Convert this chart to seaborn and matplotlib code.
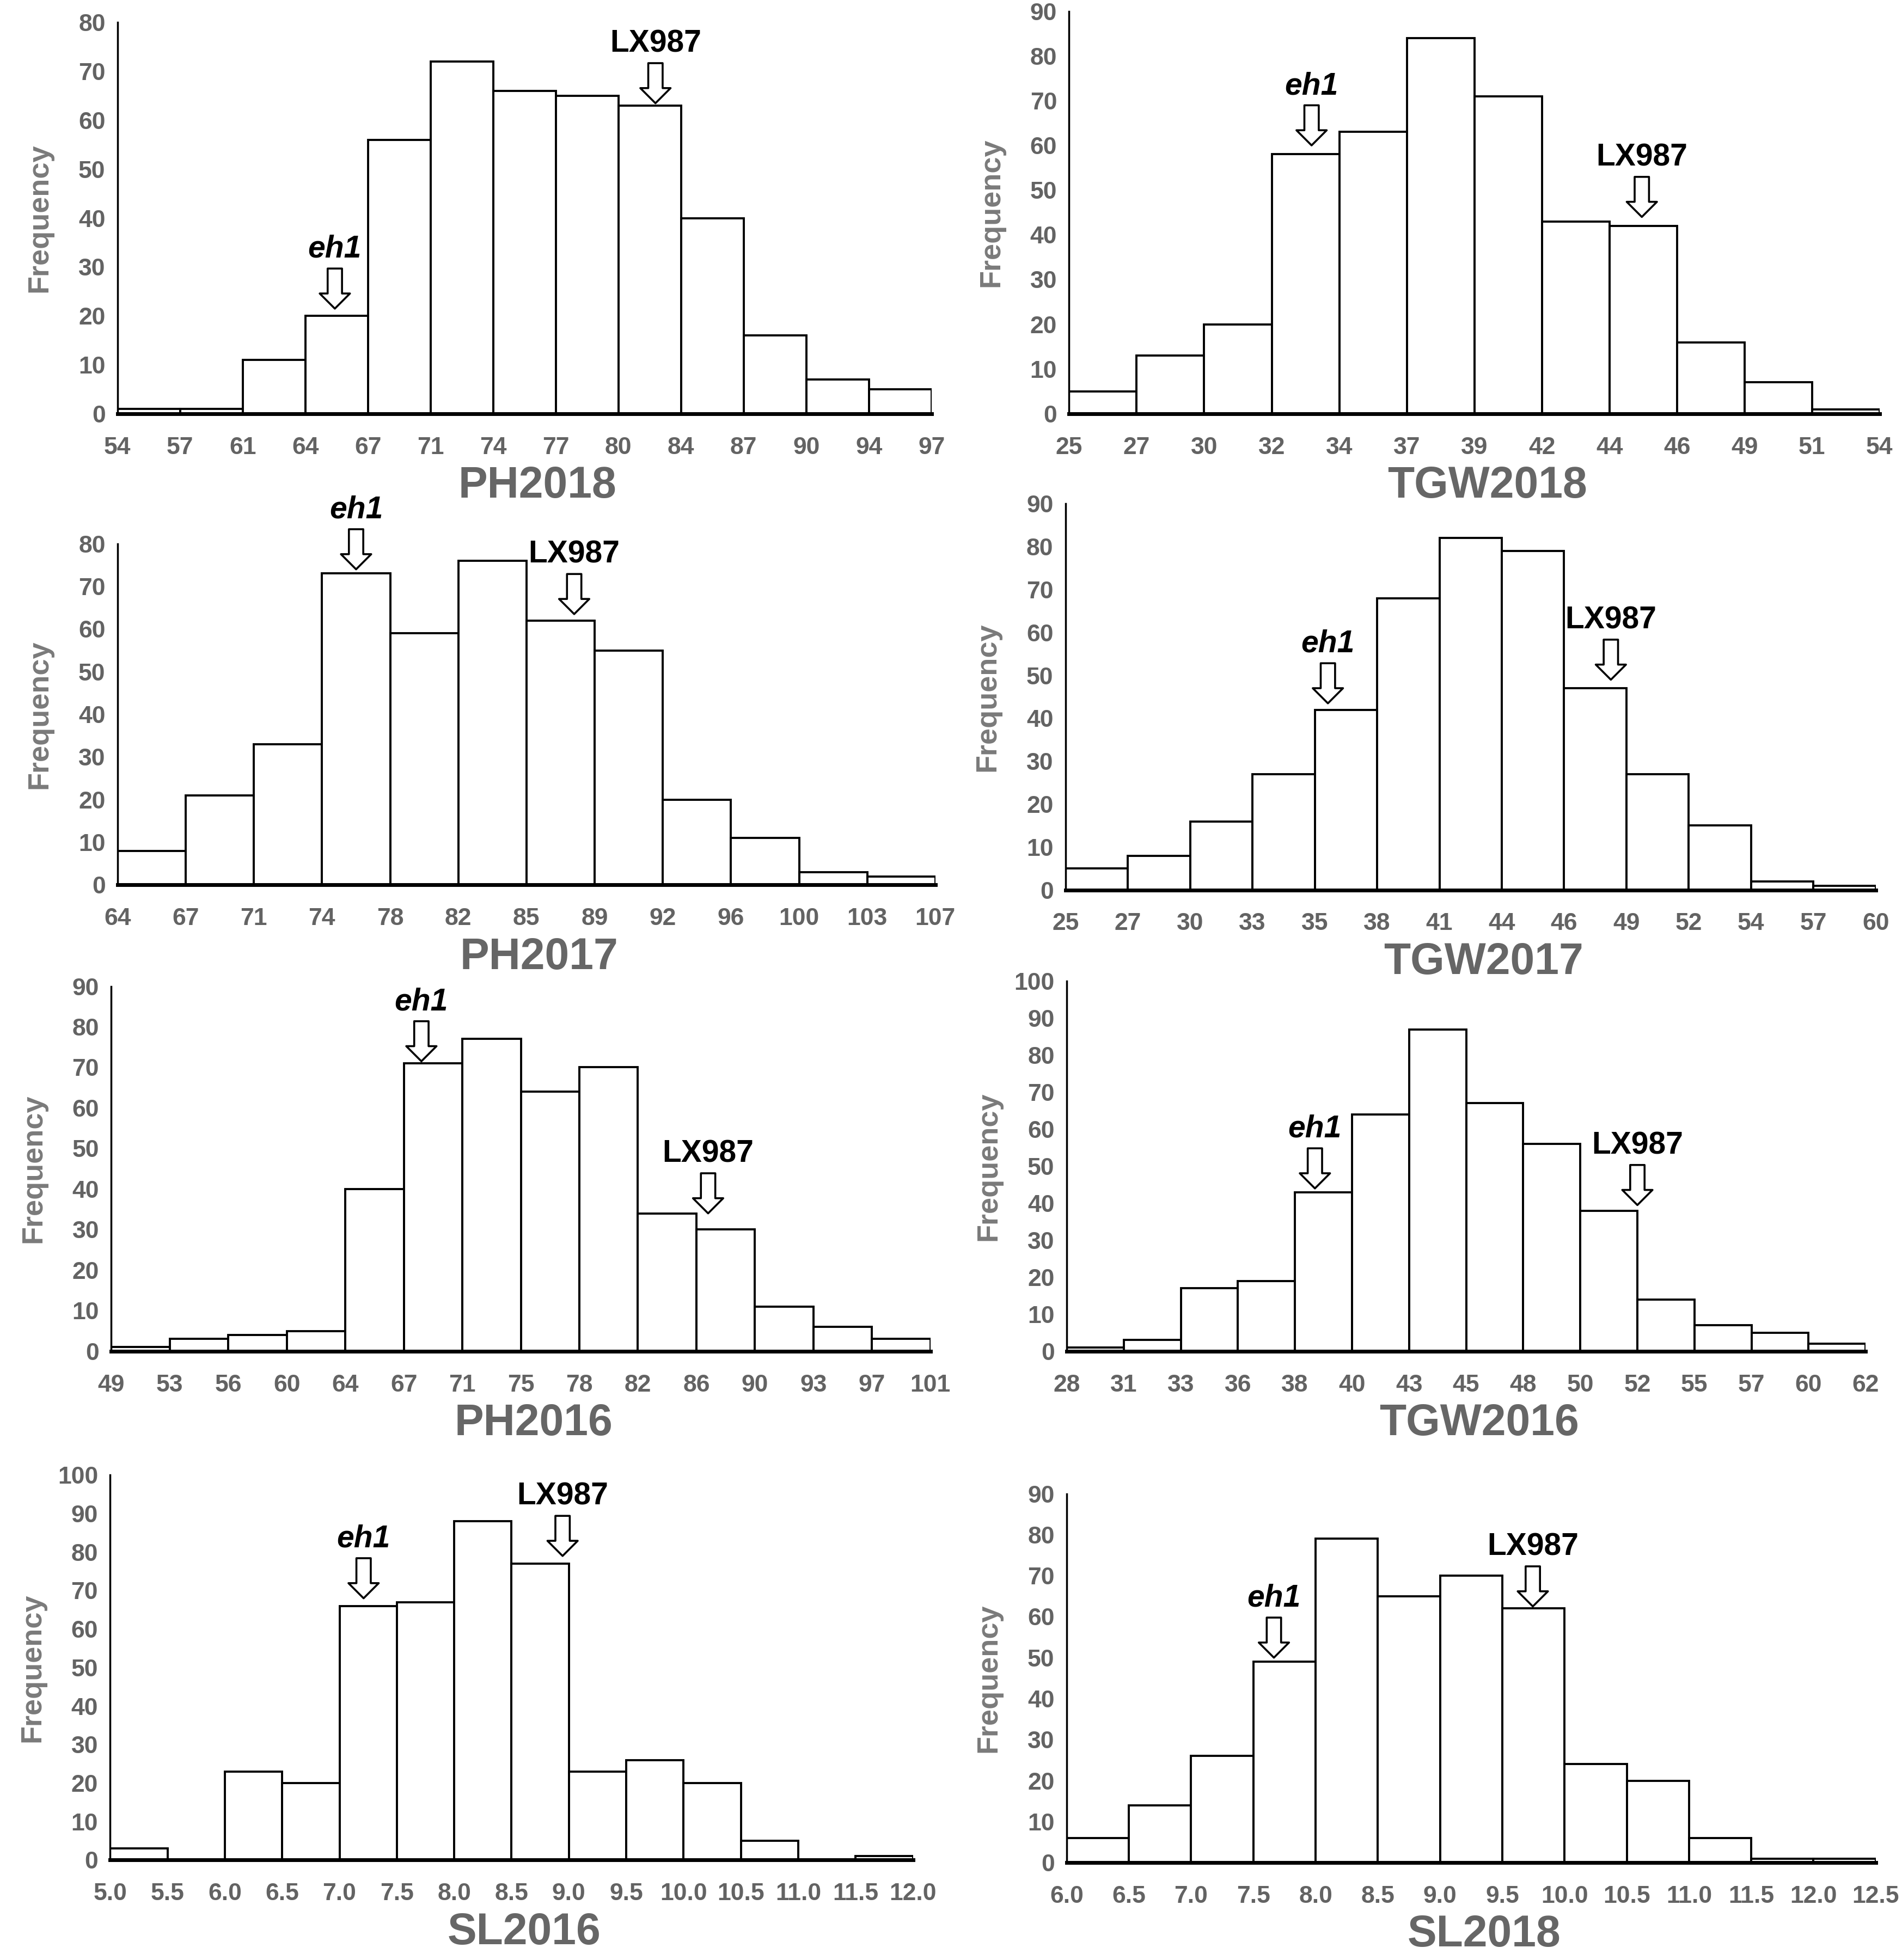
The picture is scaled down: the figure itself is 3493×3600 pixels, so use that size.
import numpy as np
import pandas as pd
import matplotlib
matplotlib.use("Agg")
import matplotlib.pyplot as plt
from matplotlib.transforms import offset_copy
from matplotlib.patches import ArrowStyle
import seaborn as sns

sns.set_style("white")
plt.rcParams['font.family'] = ['Liberation Sans', 'DejaVu Sans']

# ---------------- data ----------------
ph2018_edges = ["54", "57", "61", "64", "67", "71", "74", "77", "80", "84", "87", "90", "94", "97"]
ph2018_counts = [1, 1, 11, 20, 56, 72, 66, 65, 63, 40, 16, 7, 5]

tgw2018_edges = ["25", "27", "30", "32", "34", "37", "39", "42", "44", "46", "49", "51", "54"]
tgw2018_counts = [5, 13, 20, 58, 63, 84, 71, 43, 42, 16, 7, 1]

ph2017_edges = ["64", "67", "71", "74", "78", "82", "85", "89", "92", "96", "100", "103", "107"]
ph2017_counts = [8, 21, 33, 73, 59, 76, 62, 55, 20, 11, 3, 2]

tgw2017_edges = ["25", "27", "30", "33", "35", "38", "41", "44", "46", "49", "52", "54", "57", "60"]
tgw2017_counts = [5, 8, 16, 27, 42, 68, 82, 79, 47, 27, 15, 2, 1]

ph2016_edges = ["49", "53", "56", "60", "64", "67", "71", "75", "78", "82", "86", "90", "93", "97", "101"]
ph2016_counts = [1, 3, 4, 5, 40, 71, 77, 64, 70, 34, 30, 11, 6, 3]

tgw2016_edges = ["28", "31", "33", "36", "38", "40", "43", "45", "48", "50", "52", "55", "57", "60", "62"]
tgw2016_counts = [1, 3, 17, 19, 43, 64, 87, 67, 56, 38, 14, 7, 5, 2]

sl2016_edges = ["5.0", "5.5", "6.0", "6.5", "7.0", "7.5", "8.0", "8.5", "9.0", "9.5", "10.0", "10.5", "11.0", "11.5", "12.0"]
sl2016_counts = [3, 0, 23, 20, 66, 67, 88, 77, 23, 26, 20, 5, 0, 1]

sl2018_edges = ["6.0", "6.5", "7.0", "7.5", "8.0", "8.5", "9.0", "9.5", "10.0", "10.5", "11.0", "11.5", "12.0", "12.5"]
sl2018_counts = [6, 14, 26, 49, 79, 65, 70, 62, 24, 20, 6, 1, 1]

titles = ["PH2018", "TGW2018", "PH2017", "TGW2017", "PH2016", "TGW2016", "SL2016", "SL2018"]
y_max = [80, 90, 80, 90, 90, 100, 100, 90]
# marker arrows: (x in bin units, arrow tip frequency)
eh1_marks = [(3.47, 21.5), (3.59, 60), (3.5, 74), (4.21, 43.5), (5.3, 71.5), (4.35, 44), (4.42, 68), (3.33, 50)]
lx987_marks = [(8.59, 63.5), (8.48, 44), (6.7, 63.5), (8.75, 49), (10.2, 34), (10.0, 39.5), (7.89, 79), (7.49, 62.5)]

panels = [
    (ph2018_edges, ph2018_counts),
    (tgw2018_edges, tgw2018_counts),
    (ph2017_edges, ph2017_counts),
    (tgw2017_edges, tgw2017_counts),
    (ph2016_edges, ph2016_counts),
    (tgw2016_edges, tgw2016_counts),
    (sl2016_edges, sl2016_counts),
    (sl2018_edges, sl2018_counts),
]

# ---------------- layout ----------------
rects = [
    [0.0618, 0.7889, 0.4280, 0.1996],
    [0.5621, 0.7889, 0.4261, 0.2054],
    [0.0618, 0.5485, 0.4300, 0.1741],
    [0.5602, 0.5459, 0.4260, 0.1971],
    [0.0585, 0.3106, 0.4307, 0.1862],
    [0.5608, 0.3106, 0.4201, 0.1888],
    [0.0579, 0.0510, 0.4221, 0.1964],
    [0.5608, 0.0497, 0.4254, 0.1882],
]

fig = plt.figure(figsize=(34.93, 36), dpi=100)

tick_color = "#636363"
title_color = "#666666"
arrow_style = ArrowStyle.Simple(head_length=1.0, head_width=2.0, tail_width=0.95)

for i, ((edges, counts), rect) in enumerate(zip(panels, rects)):
    ax = fig.add_axes(rect)
    n = len(counts)
    df = pd.DataFrame({"bin": np.arange(n) + 0.5, "count": counts})
    sns.barplot(data=df, x="bin", y="count", native_scale=True, width=1.0, ax=ax,
                color="white", saturation=1, edgecolor="black", linewidth=2.8,
                errorbar=None)
    ax.set_xlim(0, n)
    ax.set_ylim(0, y_max[i])
    ax.set_xticks(np.arange(n + 1))
    ax.set_xticklabels(edges)
    ax.set_yticks(np.arange(0, y_max[i] + 1, 10))
    ax.tick_params(axis="x", length=0, pad=30, labelsize=32, labelcolor=tick_color)
    ax.tick_params(axis="y", length=0, pad=16, labelsize=32, labelcolor=tick_color)
    for lab in ax.get_xticklabels() + ax.get_yticklabels():
        lab.set_fontweight("bold")
    for s in ["top", "right"]:
        ax.spines[s].set_visible(False)
    ax.spines["left"].set_color("black")
    ax.spines["left"].set_linewidth(2.5)
    ax.spines["bottom"].set_color("black")
    ax.spines["bottom"].set_linewidth(5)

    ax.set_ylabel("Frequency", fontsize=39, fontweight="bold", color="#7a7a7a")
    ax.yaxis.label.set_va("center")
    ax.yaxis.set_label_coords(0, 0.5, transform=offset_copy(ax.transAxes, fig, x=-103, y=0, units="points"))
    ax.set_xlabel(titles[i], fontsize=58, fontweight="bold", color=title_color)
    ax.xaxis.label.set_va("center")
    ax.xaxis.set_label_coords(0.5, 0, transform=offset_copy(ax.transAxes, fig, x=17, y=-96, units="points"))

    for (mx, my), label, style in [(eh1_marks[i], "eh1", "italic"), (lx987_marks[i], "LX987", "normal")]:
        ax.annotate("", xy=(mx, my), xytext=(0, 53), textcoords="offset points",
                    arrowprops=dict(arrowstyle=arrow_style, mutation_scale=20, fc="white",
                                    ec="black", lw=2.6, shrinkA=0, shrinkB=0))
        ax.annotate(label, xy=(mx, my), xytext=(0, 59), textcoords="offset points",
                    ha="center", va="bottom", fontsize=41, fontweight="bold",
                    fontstyle=style, color="black")

fig.savefig("out.png", dpi=100, facecolor="white")
